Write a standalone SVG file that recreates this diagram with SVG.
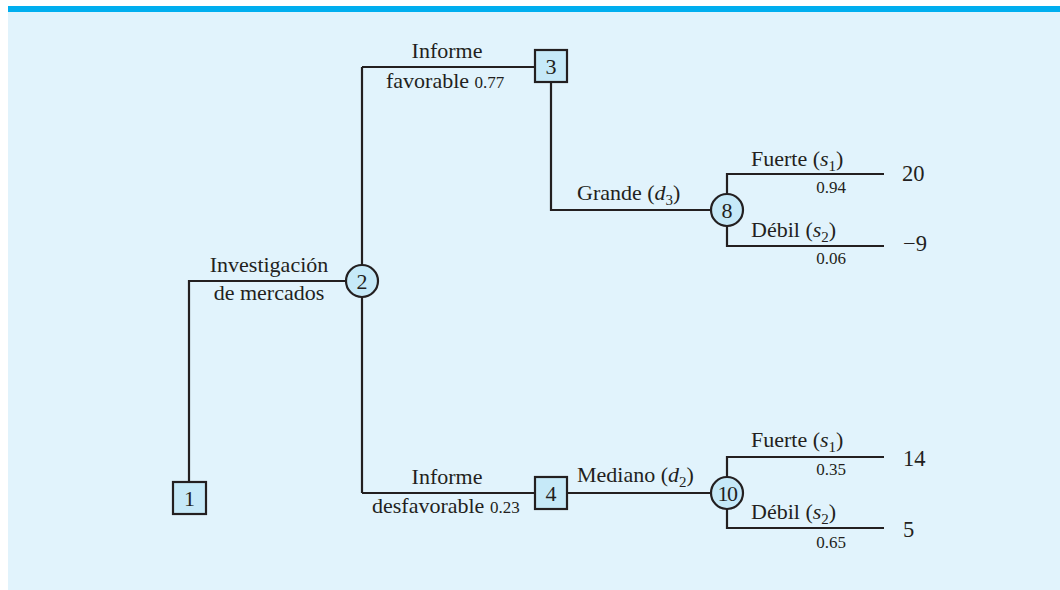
<svg xmlns="http://www.w3.org/2000/svg" width="1060" height="590" viewBox="0 0 1060 590">
<style>
.ln{stroke:#231f20;stroke-width:2.2;fill:none}
.nd{fill:#c6e9f8;stroke:#231f20;stroke-width:2.2}
text{font-family:"Liberation Serif","Times New Roman",serif;fill:#231f20}
.t{font-size:22px}
.s{font-size:17px}
.n{font-size:22px;text-anchor:middle}
.v{font-size:22.5px}
.sub{font-size:15px}
</style>
<rect x="8" y="12" width="1052" height="578" fill="#e1f3fc"/>
<rect x="8" y="6" width="1052" height="6" fill="#00aeef"/>
<g id="connectors">
<polyline class="ln" points="189,482 189,281 346,281"/>
<line class="ln" x1="362" y1="265" x2="362" y2="67"/>
<line class="ln" x1="362" y1="67" x2="535" y2="67"/>
<line class="ln" x1="362" y1="297" x2="362" y2="493"/>
<line class="ln" x1="362" y1="493" x2="535" y2="493"/>
<polyline class="ln" points="551,82 551,210 711,210"/>
<polyline class="ln" points="727,194 727,174 884,174"/>
<polyline class="ln" points="727,226 727,246 884,246"/>
<line class="ln" x1="567" y1="493" x2="711" y2="493"/>
<polyline class="ln" points="727,477 727,457 884,457"/>
<polyline class="ln" points="727,509 727,528 884,528"/>
</g>
<g id="node1"><rect class="nd" x="173" y="482" width="33" height="32"/><text class="n" x="189.5" y="506">1</text></g>
<g id="node2"><circle class="nd" cx="362" cy="281" r="16"/><text class="n" x="362" y="289">2</text></g>
<g id="node3"><rect class="nd" x="535" y="50" width="32" height="32"/><text class="n" x="551" y="74">3</text></g>
<g id="node4"><rect class="nd" x="535" y="477" width="32" height="32"/><text class="n" x="551" y="501">4</text></g>
<g id="node8"><circle class="nd" cx="727" cy="210" r="16"/><text class="n" x="727" y="218">8</text></g>
<g id="node10"><circle class="nd" cx="727" cy="493" r="16"/><text class="n" x="727" y="501" letter-spacing="-1.5">10</text></g>
<g id="labels">
<text class="t" x="269" y="272" text-anchor="middle">Investigación</text>
<text class="t" x="269" y="300" text-anchor="middle">de mercados</text>
<text class="t" x="447" y="58" text-anchor="middle">Informe</text>
<text class="t" x="386" y="88">favorable <tspan class="s">0.77</tspan></text>
<text class="t" x="577" y="200">Grande (<tspan font-style="italic">d</tspan><tspan class="sub" dy="5">3</tspan><tspan dy="-5">)</tspan></text>
<text class="t" x="751" y="166">Fuerte (<tspan font-style="italic">s</tspan><tspan class="sub" dy="5">1</tspan><tspan dy="-5">)</tspan></text>
<text class="s" x="831" y="193" text-anchor="middle">0.94</text>
<text class="v" x="902" y="181">20</text>
<text class="t" x="751" y="237">Débil (<tspan font-style="italic">s</tspan><tspan class="sub" dy="5">2</tspan><tspan dy="-5">)</tspan></text>
<text class="s" x="831" y="264" text-anchor="middle">0.06</text>
<text class="v" x="903" y="251">−9</text>
<text class="t" x="447" y="484" text-anchor="middle">Informe</text>
<text class="t" x="372" y="513">desfavorable <tspan class="s">0.23</tspan></text>
<text class="t" x="577" y="482">Mediano (<tspan font-style="italic">d</tspan><tspan class="sub" dy="5">2</tspan><tspan dy="-5">)</tspan></text>
<text class="t" x="751" y="447">Fuerte (<tspan font-style="italic">s</tspan><tspan class="sub" dy="5">1</tspan><tspan dy="-5">)</tspan></text>
<text class="s" x="831" y="475" text-anchor="middle">0.35</text>
<text class="v" x="903" y="466">14</text>
<text class="t" x="751" y="519">Débil (<tspan font-style="italic">s</tspan><tspan class="sub" dy="5">2</tspan><tspan dy="-5">)</tspan></text>
<text class="s" x="831" y="548" text-anchor="middle">0.65</text>
<text class="v" x="903" y="537">5</text>
</g>
</svg>
